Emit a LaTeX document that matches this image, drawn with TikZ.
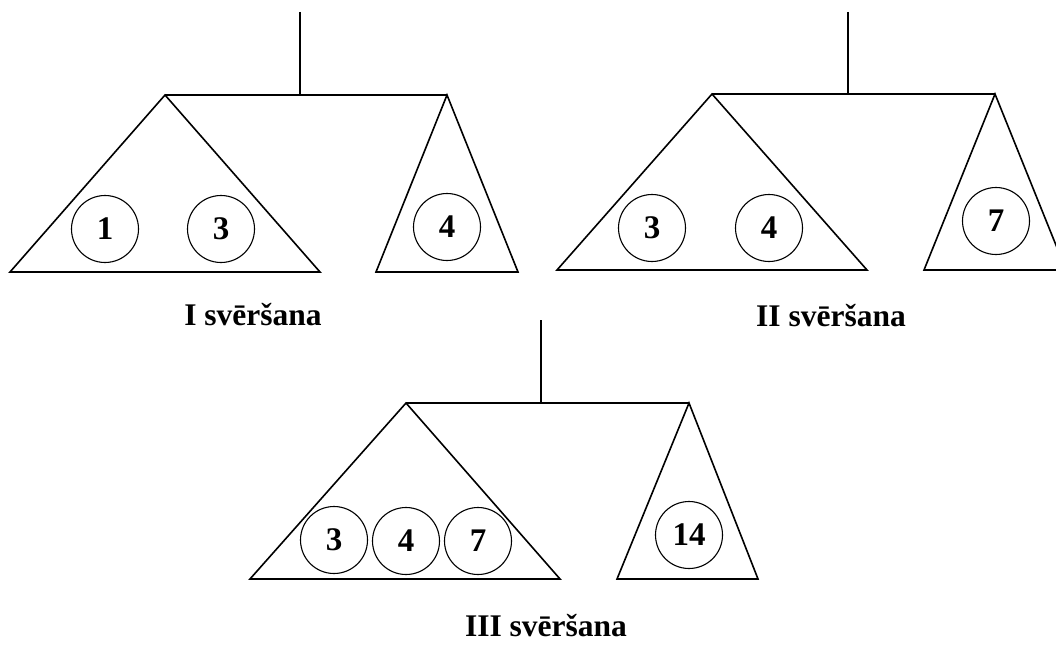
\documentclass[tikz,border=0pt]{standalone}
\usepackage{fontspec}
\setmainfont{Liberation Serif}
\begin{document}
\begin{tikzpicture}[x=1pt,y=-1pt, line width=1.6pt, line join=miter,
  ball/.style={draw, circle, line width=1.1pt, minimum size=67pt, inner sep=0pt, font=\fontsize{33}{33}\selectfont\bfseries},
  caption/.style={anchor=base, inner sep=0pt, font=\fontsize{31.5}{32}\selectfont\bfseries}]
\useasboundingbox (0,0) rectangle (1056,661);
% ---------- scale I ----------
\coordinate (s1top) at (300,12);
\coordinate (s1mid) at (300,95);
\coordinate (s1L) at (165,95);
\coordinate (s1R) at (447,95);
\coordinate (s1La) at (10,272);
\coordinate (s1Lb) at (320,272);
\coordinate (s1Ra) at (376,272);
\coordinate (s1Rb) at (518,272);
\draw (s1top) -- (s1mid);
\draw (s1L) -- (s1R);
\draw (s1L) -- (s1La) -- (s1Lb) -- cycle;
\draw (s1R) -- (s1Ra) -- (s1Rb) -- cycle;
\node[ball] (b11) at (105,229) {1};
\node[ball] (b12) at (221,229) {3};
\node[ball] (b13) at (447,227) {4};
\node[caption] (c1) at (253,325) {I svēršana};
% ---------- scale II ----------
\coordinate (s2top) at (848,12);
\coordinate (s2mid) at (848,94);
\coordinate (s2L) at (712,94);
\coordinate (s2R) at (995,94);
\coordinate (s2La) at (557,270);
\coordinate (s2Lb) at (867,270);
\coordinate (s2Ra) at (924,270);
\coordinate (s2Rb) at (1066,270);
\draw (s2top) -- (s2mid);
\draw (s2L) -- (s2R);
\draw (s2L) -- (s2La) -- (s2Lb) -- cycle;
\draw (s2R) -- (s2Ra) -- (s2Rb) -- cycle;
\node[ball] (b21) at (652,228) {3};
\node[ball] (b22) at (769,228) {4};
\node[ball] (b23) at (996,221) {7};
\node[caption] (c2) at (831,326) {II svēršana};
% ---------- scale III ----------
\coordinate (s3top) at (541,320);
\coordinate (s3mid) at (541,403);
\coordinate (s3L) at (406,403);
\coordinate (s3R) at (689,403);
\coordinate (s3La) at (250,579);
\coordinate (s3Lb) at (560,579);
\coordinate (s3Ra) at (617,579);
\coordinate (s3Rb) at (758,579);
\draw (s3top) -- (s3mid);
\draw (s3L) -- (s3R);
\draw (s3L) -- (s3La) -- (s3Lb) -- cycle;
\draw (s3R) -- (s3Ra) -- (s3Rb) -- cycle;
\node[ball] (b31) at (334,540) {3};
\node[ball] (b32) at (406,541) {4};
\node[ball] (b33) at (478,541) {7};
\node[ball] (b34) at (689,535) {14};
\node[caption] (c3) at (546,636) {III svēršana};
\end{tikzpicture}
\end{document}
